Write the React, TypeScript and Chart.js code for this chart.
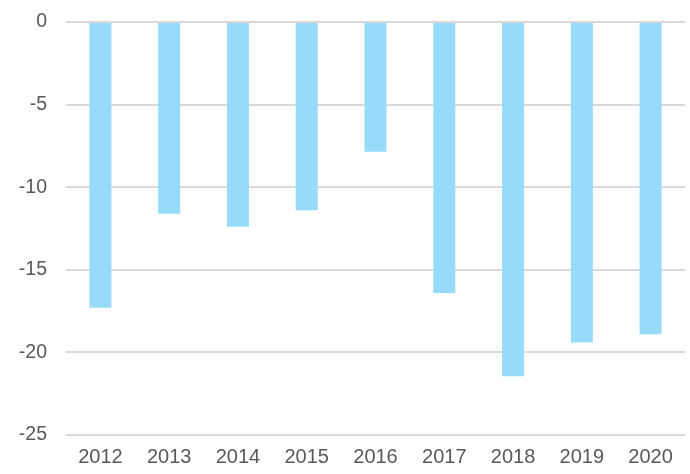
import React, { useEffect, useRef } from "react";
import { Chart, registerables } from "chart.js";

Chart.register(...registerables);

const categories = ["2012", "2013", "2014", "2015", "2016", "2017", "2018", "2019", "2020"];
const values = [-17.3, -11.6, -12.4, -11.4, -7.85, -16.4, -21.45, -19.4, -18.9];

export default function App() {
  const ref = useRef<HTMLCanvasElement | null>(null);
  useEffect(() => {
    document.body.style.margin = "0";
    const ctx = ref.current!;
    const chart = new Chart(ctx, {
      type: "bar",
      data: {
        labels: categories,
        datasets: [
          {
            data: values,
            backgroundColor: "#97DAF9",
            borderWidth: 0,
            barPercentage: 0.32,
            categoryPercentage: 1,
          },
        ],
      },
      options: {
        responsive: false,
        animation: false,
        maintainAspectRatio: false,
        layout: { padding: { top: 22, right: 5, bottom: 0, left: 0 } },
        plugins: { legend: { display: false }, tooltip: { enabled: false } },
        scales: {
          x: {
            grid: { display: false, drawTicks: false },
            border: { display: false },
            ticks: {
              color: "#595959",
              font: { family: "'Liberation Sans', Arial, sans-serif", size: 20 },
              padding: 10,
              maxRotation: 0,
            },
            afterFit: (axis: any) => {
              axis.height = 39;
              axis.paddingLeft = 0;
              axis.paddingRight = 0;
            },
          },
          y: {
            min: -25,
            max: 0,
            grid: { color: "#D9D9D9", lineWidth: 2, drawTicks: false },
            border: { display: false },
            ticks: {
              stepSize: 5,
              color: "#595959",
              font: { family: "'Liberation Sans', Arial, sans-serif", size: 19.5 },
              padding: 19,
            },
            afterFit: (axis: any) => {
              axis.width = 66;
              axis.paddingTop = 0;
              axis.paddingBottom = 0;
            },
          },
        },
      },
    });
    return () => chart.destroy();
  }, []);
  return (
    <div style={{ position: "absolute", left: 0, top: 0, width: 690, height: 474 }}>
      <canvas ref={ref} width={690} height={474} style={{ display: "block" }} />
    </div>
  );
}
